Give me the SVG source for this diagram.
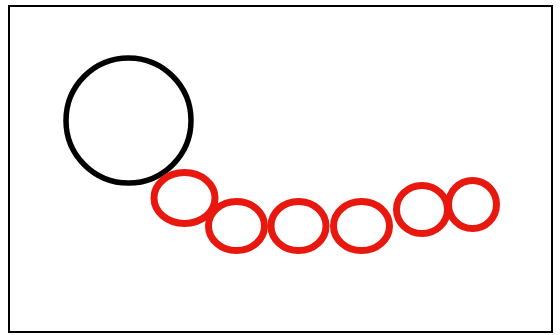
<svg xmlns="http://www.w3.org/2000/svg" width="560" height="335" viewBox="0 0 560 335">
  <style>
    .frame { fill: #ffffff; stroke: #000000; stroke-width: 2; }
    .big { fill: none; stroke: #000000; stroke-width: 5.5; }
    .bead { fill: none; stroke: #e8180f; stroke-width: 7; }
  </style>
  <rect width="560" height="335" fill="#ffffff"/>
  <rect class="frame" x="9" y="6" width="543" height="326"/>
  <g id="black-circle">
    <circle class="big" cx="128.5" cy="120.5" r="62.5"/>
  </g>
  <g id="bead-1"><ellipse class="bead" cx="184.5" cy="198" rx="30.5" ry="25.5"/></g>
  <g id="bead-2"><ellipse class="bead" cx="236.5" cy="226" rx="28" ry="24.5"/></g>
  <g id="bead-3"><ellipse class="bead" cx="298.5" cy="226" rx="27.5" ry="24.5"/></g>
  <g id="bead-4"><ellipse class="bead" cx="361.5" cy="226" rx="28" ry="24.5"/></g>
  <g id="bead-5"><ellipse class="bead" cx="422" cy="209.5" rx="25.5" ry="24"/></g>
  <g id="bead-6"><ellipse class="bead" cx="472.5" cy="204.5" rx="24" ry="24"/></g>
</svg>
